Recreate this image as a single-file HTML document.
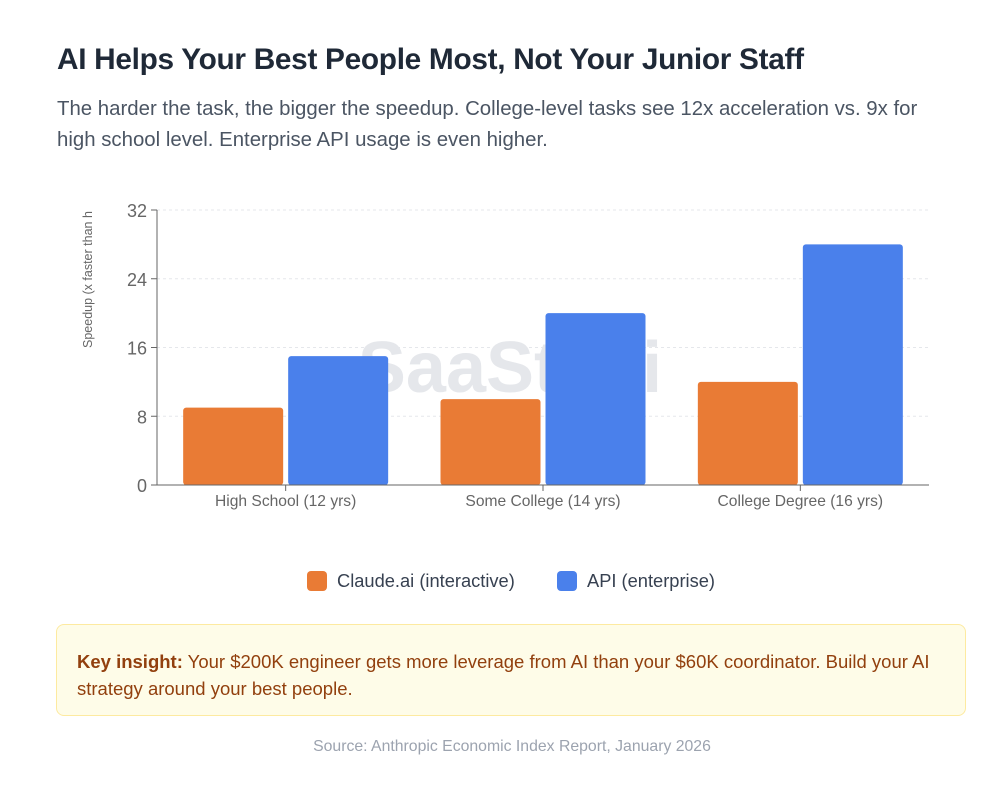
<!DOCTYPE html>
<html><head><meta charset="utf-8">
<style>
body{margin:0;width:1000px;height:791px;background:#fff;font-family:"Liberation Sans",sans-serif;position:relative;overflow:hidden}
.title{position:absolute;left:57px;top:43px;font-size:29.8px;font-weight:bold;color:#1f2937;letter-spacing:-0.3px}
.sub{position:absolute;left:57px;top:94px;width:895px;font-size:20.4px;line-height:31px;color:#4b5563}
.insight{position:absolute;left:56px;top:624px;width:910px;height:92px;box-sizing:border-box;background:#fefce8;border:1px solid #fdeaa0;border-radius:8px;padding:23px 20px 23px 20px;font-size:18.5px;line-height:27px;color:#92400e}
.src{position:absolute;left:12px;width:1000px;top:738px;text-align:center;font-size:15.8px;color:#9ca3af}
</style></head><body>
<div class="title">AI Helps Your Best People Most, Not Your Junior Staff</div>
<div class="sub">The harder the task, the bigger the speedup. College-level tasks see 12x acceleration vs. 9x for high school level. Enterprise API usage is even higher.</div>
<svg id="chart" width="1000" height="791" style="position:absolute;left:0;top:0" xmlns="http://www.w3.org/2000/svg"></svg>
<div class="insight"><b>Key insight:</b> Your $200K engineer gets more leverage from AI than your $60K coordinator. Build your AI strategy around your best people.</div>
<div class="src">Source: Anthropic Economic Index Report, January 2026</div>
<script>
const categories=["High School (12 yrs)","Some College (14 yrs)","College Degree (16 yrs)"];
const claudeValues=[9,10,12];
const apiValues=[15,20,28];
const yTicks=[0,8,16,24,32];
const seriesNames=["Claude.ai (interactive)","API (enterprise)"];
const colors=["#e97b35","#4a80eb"];
const svg=document.getElementById('chart');
const NS="http://www.w3.org/2000/svg";
const X0=157,X1=929,Y0=485,Y1=210,YMAX=32;
const y=v=>Y0-(v/YMAX)*(Y0-Y1);
const band=(X1-X0)/categories.length;
const xc=i=>X0+band*(i+0.5);
function mk(t,a){const e=document.createElementNS(NS,t);for(const k in a)e.setAttribute(k,a[k]);svg.appendChild(e);return e;}
let wm=mk('text',{x:510,y:392,'text-anchor':'middle','font-size':72,'font-weight':'bold',fill:'#e5e7eb','font-family':'Liberation Sans, sans-serif'});
wm.textContent='SaaStr.ai';


yTicks.forEach(t=>{
  if(t>0){let g=mk('line',{x1:X0,x2:X1,y1:y(t),y2:y(t),stroke:'#e5e7eb','stroke-dasharray':'3 3'});
  
  }
  let tk=mk('line',{x1:X0-6,x2:X0,y1:y(t),y2:y(t),stroke:'#666'});
  
  
  let l=mk('text',{x:X0-10,y:y(t)+7,'text-anchor':'end','font-size':18,fill:'#666'});
  l.textContent=t;
  
  
});
const bw=100,gap=5;
categories.forEach((c,i)=>{
  [claudeValues[i],apiValues[i]].forEach((v,s)=>{
    const x=s===0?xc(i)-gap/2-bw:xc(i)+gap/2;
    let r=mk('rect',{x:x,y:y(v),width:bw,height:Y0-y(v),rx:3,fill:colors[s]});
    
    
  });
  let tk=mk('line',{x1:xc(i),x2:xc(i),y1:Y0,y2:Y0+6,stroke:'#666'});
  
  
  let l=mk('text',{x:xc(i),y:Y0+21,'text-anchor':'middle','font-size':15.6,fill:'#666'});
  l.textContent=c;
  
  
});
let ax=mk('line',{x1:X0,x2:X0,y1:Y1,y2:Y0,stroke:'#666'});


let bx=mk('line',{x1:X0,x2:X1,y1:Y0,y2:Y0,stroke:'#666'});


let yt=mk('text',{x:0,y:0,transform:'translate(92,348) rotate(-90)','font-size':12.5,fill:'#666'});
yt.textContent='Speedup (x faster than h';


const lx=[307,557];
seriesNames.forEach((n,s)=>{
  let r=mk('rect',{x:lx[s],y:571,width:20,height:20,rx:4,fill:colors[s]});
  
  
  let t=mk('text',{x:lx[s]+30,y:587,'font-size':18.3,fill:'#374151'});
  t.textContent=n;
  
  
});
</script>
</body></html>
